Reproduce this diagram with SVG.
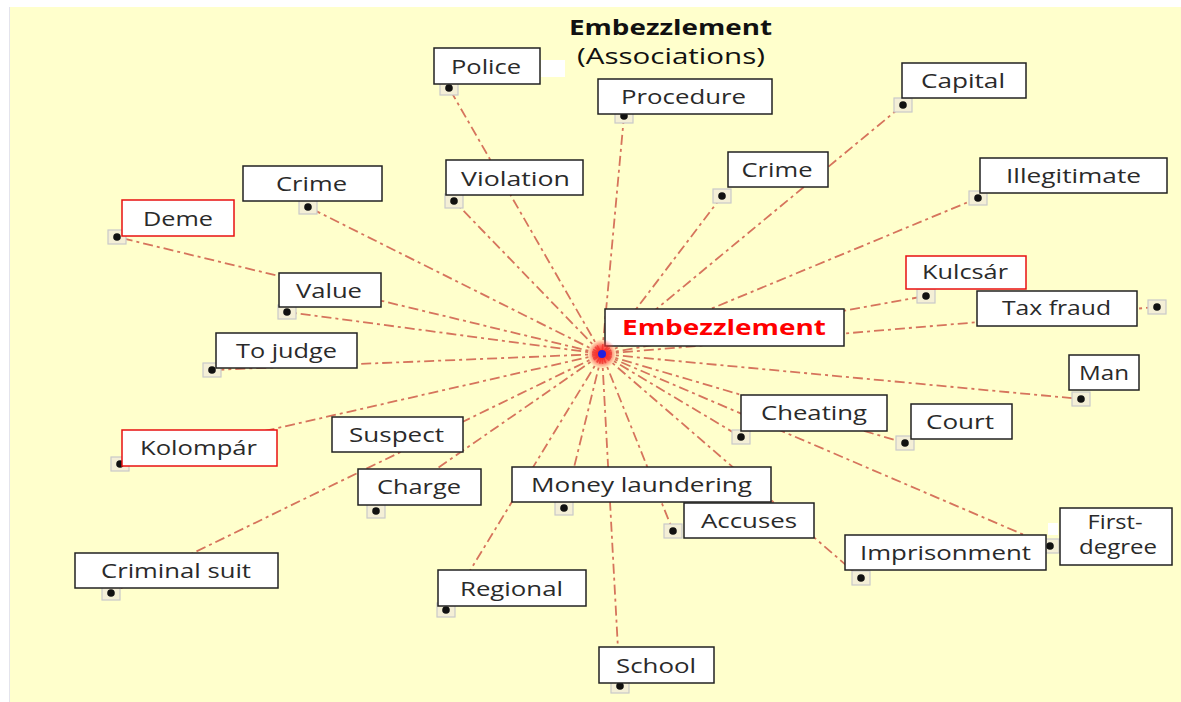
<svg xmlns="http://www.w3.org/2000/svg" width="1181" height="702" viewBox="0 0 1181 702">
  <defs>
    <style>
      .bg { fill: #FFFFCC; }
      .link { stroke: #D6745C; stroke-width: 1.8; fill: none; stroke-dasharray: 10 4 3 4; }
      .anchor { fill: #F4EFD6; stroke: #C9C9C9; stroke-width: 1.2; }
      .pin { fill: #111; }
      .box { fill: #FFFFFF; stroke: #222222; stroke-width: 1.5; }
      .box.hl { stroke: #E81010; }
      .lbl { font-family: "Open Sans", "Noto Sans", "Liberation Sans", sans-serif; font-size: 20px; fill: #2A2A2A; text-anchor: middle; }
      .title { font-family: "Open Sans", "Noto Sans", "Liberation Sans", sans-serif; font-size: 21px; fill: #111111; text-anchor: middle; }
      .main { font-family: "Open Sans", "Noto Sans", "Liberation Sans", sans-serif; font-size: 21px; font-weight: bold; fill: #FF0000; text-anchor: middle; }
      .patch { fill: #FFFFFF; }
    </style>
    <radialGradient id="hub" cx="0.5" cy="0.5" r="0.5">
      <stop offset="0" stop-color="#FF1A1A" stop-opacity="1"/>
      <stop offset="0.55" stop-color="#FF2A2A" stop-opacity="0.7"/>
      <stop offset="1" stop-color="#FF4040" stop-opacity="0"/>
    </radialGradient>
  </defs>

  <!-- canvas -->
  <rect x="0" y="0" width="1181" height="702" fill="#FFFFFF"/>
  <rect class="bg" x="10" y="7" width="1171" height="695"/>
  <line x1="9.5" y1="7" x2="9.5" y2="702" stroke="#E4E4EC" stroke-width="1"/>

  <!-- title -->
  <g id="title">
    <text class="title" x="670.5" y="35" font-weight="bold" textLength="203" lengthAdjust="spacingAndGlyphs">Embezzlement</text>
    <text class="title" x="671" y="64" textLength="188" lengthAdjust="spacingAndGlyphs">(Associations)</text>
  </g>

  <!-- connectors from the hub -->
  <g id="connectors">
    <line class="link" x1="602" y1="354" x2="449" y2="88"/>
    <line class="link" x1="602" y1="354" x2="624" y2="116"/>
    <line class="link" x1="602" y1="354" x2="903" y2="105"/>
    <line class="link" x1="602" y1="354" x2="722" y2="196"/>
    <line class="link" x1="602" y1="354" x2="978" y2="198"/>
    <line class="link" x1="602" y1="354" x2="308" y2="207"/>
    <line class="link" x1="602" y1="354" x2="454" y2="201"/>
    <line class="link" x1="602" y1="354" x2="117" y2="237"/>
    <line class="link" x1="602" y1="354" x2="926" y2="296"/>
    <line class="link" x1="602" y1="354" x2="1157" y2="307"/>
    <line class="link" x1="602" y1="354" x2="287" y2="312"/>
    <line class="link" x1="602" y1="354" x2="212" y2="370"/>
    <line class="link" x1="602" y1="354" x2="1081" y2="399"/>
    <line class="link" x1="602" y1="354" x2="741" y2="437"/>
    <line class="link" x1="602" y1="354" x2="905" y2="443"/>
    <line class="link" x1="602" y1="354" x2="120" y2="464"/>
    <line class="link" x1="602" y1="354" x2="376" y2="511"/>
    <line class="link" x1="602" y1="354" x2="111" y2="593"/>
    <line class="link" x1="602" y1="354" x2="564" y2="508"/>
    <line class="link" x1="602" y1="354" x2="673" y2="531"/>
    <line class="link" x1="602" y1="354" x2="861" y2="578"/>
    <line class="link" x1="602" y1="354" x2="1050" y2="546"/>
    <line class="link" x1="602" y1="354" x2="446" y2="610"/>
    <line class="link" x1="602" y1="354" x2="620" y2="686"/>
  </g>

  <!-- anchor pins at the end of each connector -->
  <g id="anchors">
    <g transform="translate(449 88)"><rect class="anchor" x="-9" y="-7" width="18" height="14"/><circle class="pin" r="3.8"/></g>
    <g transform="translate(624 116)"><rect class="anchor" x="-9" y="-7" width="18" height="14"/><circle class="pin" r="3.8"/></g>
    <g transform="translate(903 105)"><rect class="anchor" x="-9" y="-7" width="18" height="14"/><circle class="pin" r="3.8"/></g>
    <g transform="translate(722 196)"><rect class="anchor" x="-9" y="-7" width="18" height="14"/><circle class="pin" r="3.8"/></g>
    <g transform="translate(978 198)"><rect class="anchor" x="-9" y="-7" width="18" height="14"/><circle class="pin" r="3.8"/></g>
    <g transform="translate(308 207)"><rect class="anchor" x="-9" y="-7" width="18" height="14"/><circle class="pin" r="3.8"/></g>
    <g transform="translate(454 201)"><rect class="anchor" x="-9" y="-7" width="18" height="14"/><circle class="pin" r="3.8"/></g>
    <g transform="translate(117 237)"><rect class="anchor" x="-9" y="-7" width="18" height="14"/><circle class="pin" r="3.8"/></g>
    <g transform="translate(926 296)"><rect class="anchor" x="-9" y="-7" width="18" height="14"/><circle class="pin" r="3.8"/></g>
    <g transform="translate(1157 307)"><rect class="anchor" x="-9" y="-7" width="18" height="14"/><circle class="pin" r="3.8"/></g>
    <g transform="translate(287 312)"><rect class="anchor" x="-9" y="-7" width="18" height="14"/><circle class="pin" r="3.8"/></g>
    <g transform="translate(212 370)"><rect class="anchor" x="-9" y="-7" width="18" height="14"/><circle class="pin" r="3.8"/></g>
    <g transform="translate(1081 399)"><rect class="anchor" x="-9" y="-7" width="18" height="14"/><circle class="pin" r="3.8"/></g>
    <g transform="translate(741 437)"><rect class="anchor" x="-9" y="-7" width="18" height="14"/><circle class="pin" r="3.8"/></g>
    <g transform="translate(905 443)"><rect class="anchor" x="-9" y="-7" width="18" height="14"/><circle class="pin" r="3.8"/></g>
    <g transform="translate(120 464)"><rect class="anchor" x="-9" y="-7" width="18" height="14"/><circle class="pin" r="3.8"/></g>
    <g transform="translate(376 511)"><rect class="anchor" x="-9" y="-7" width="18" height="14"/><circle class="pin" r="3.8"/></g>
    <g transform="translate(111 593)"><rect class="anchor" x="-9" y="-7" width="18" height="14"/><circle class="pin" r="3.8"/></g>
    <g transform="translate(564 508)"><rect class="anchor" x="-9" y="-7" width="18" height="14"/><circle class="pin" r="3.8"/></g>
    <g transform="translate(673 531)"><rect class="anchor" x="-9" y="-7" width="18" height="14"/><circle class="pin" r="3.8"/></g>
    <g transform="translate(861 578)"><rect class="anchor" x="-9" y="-7" width="18" height="14"/><circle class="pin" r="3.8"/></g>
    <g transform="translate(1050 546)"><rect class="anchor" x="-9" y="-7" width="18" height="14"/><circle class="pin" r="3.8"/></g>
    <g transform="translate(446 610)"><rect class="anchor" x="-9" y="-7" width="18" height="14"/><circle class="pin" r="3.8"/></g>
    <g transform="translate(620 686)"><rect class="anchor" x="-9" y="-7" width="18" height="14"/><circle class="pin" r="3.8"/></g>
  </g>

  <!-- small white fragments -->
  <rect class="patch" x="541" y="60" width="24" height="17"/>
  <rect class="patch" x="1048" y="523" width="10" height="12"/>

  <!-- word nodes -->
  <g id="node-police"><rect class="box" x="434" y="48" width="106" height="36"/><text class="lbl" x="486" y="74" textLength="70" lengthAdjust="spacingAndGlyphs">Police</text></g>
  <g id="node-procedure"><rect class="box" x="598" y="79" width="174" height="35"/><text class="lbl" x="683.5" y="104" textLength="125" lengthAdjust="spacingAndGlyphs">Procedure</text></g>
  <g id="node-capital"><rect class="box" x="902" y="63" width="124" height="35"/><text class="lbl" x="963" y="88" textLength="84" lengthAdjust="spacingAndGlyphs">Capital</text></g>
  <g id="node-crime-right"><rect class="box" x="728" y="152" width="100" height="35"/><text class="lbl" x="777" y="177" textLength="71" lengthAdjust="spacingAndGlyphs">Crime</text></g>
  <g id="node-illegitimate"><rect class="box" x="980" y="158" width="187" height="35"/><text class="lbl" x="1073.5" y="183" textLength="135" lengthAdjust="spacingAndGlyphs">Illegitimate</text></g>
  <g id="node-crime-left"><rect class="box" x="243" y="166" width="139" height="35"/><text class="lbl" x="311.5" y="191" textLength="71" lengthAdjust="spacingAndGlyphs">Crime</text></g>
  <g id="node-violation"><rect class="box" x="446" y="160" width="137" height="35"/><text class="lbl" x="515.5" y="186" textLength="109" lengthAdjust="spacingAndGlyphs">Violation</text></g>
  <g id="node-deme"><rect class="box hl" x="122" y="200" width="112" height="36"/><text class="lbl" x="178" y="226" textLength="70" lengthAdjust="spacingAndGlyphs">Deme</text></g>
  <g id="node-kulcsar"><rect class="box hl" x="906" y="256" width="120" height="33"/><text class="lbl" x="965" y="279" textLength="86" lengthAdjust="spacingAndGlyphs">Kulcsár</text></g>
  <g id="node-tax-fraud"><rect class="box" x="977" y="291" width="160" height="35"/><text class="lbl" x="1056.5" y="315" textLength="109" lengthAdjust="spacingAndGlyphs">Tax fraud</text></g>
  <g id="node-value"><rect class="box" x="279" y="273" width="102" height="34"/><text class="lbl" x="329" y="298" textLength="66" lengthAdjust="spacingAndGlyphs">Value</text></g>
  <g id="node-to-judge"><rect class="box" x="216" y="333" width="141" height="35"/><text class="lbl" x="286.5" y="358" textLength="101" lengthAdjust="spacingAndGlyphs">To judge</text></g>
  <g id="node-man"><rect class="box" x="1069" y="355" width="70" height="35"/><text class="lbl" x="1104" y="380" textLength="50" lengthAdjust="spacingAndGlyphs">Man</text></g>
  <g id="node-cheating"><rect class="box" x="741" y="395" width="146" height="36"/><text class="lbl" x="814" y="420" textLength="106" lengthAdjust="spacingAndGlyphs">Cheating</text></g>
  <g id="node-court"><rect class="box" x="911" y="404" width="101" height="35"/><text class="lbl" x="960" y="429" textLength="68" lengthAdjust="spacingAndGlyphs">Court</text></g>
  <g id="node-kolompar"><rect class="box hl" x="122" y="430" width="155" height="36"/><text class="lbl" x="198.5" y="455" textLength="117" lengthAdjust="spacingAndGlyphs">Kolompár</text></g>
  <g id="node-suspect"><rect class="box" x="332" y="417" width="131" height="35"/><text class="lbl" x="396.5" y="442" textLength="95" lengthAdjust="spacingAndGlyphs">Suspect</text></g>
  <g id="node-charge"><rect class="box" x="358" y="469" width="123" height="36"/><text class="lbl" x="419" y="494" textLength="84" lengthAdjust="spacingAndGlyphs">Charge</text></g>
  <g id="node-money-laundering"><rect class="box" x="512" y="467" width="259" height="35"/><text class="lbl" x="641.5" y="492" textLength="221" lengthAdjust="spacingAndGlyphs">Money laundering</text></g>
  <g id="node-accuses"><rect class="box" x="684" y="503" width="130" height="35"/><text class="lbl" x="749" y="528" textLength="96" lengthAdjust="spacingAndGlyphs">Accuses</text></g>
  <g id="node-imprisonment"><rect class="box" x="845" y="535" width="201" height="35"/><text class="lbl" x="945.5" y="560" textLength="171" lengthAdjust="spacingAndGlyphs">Imprisonment</text></g>
  <g id="node-first-degree"><rect class="box" x="1060" y="508" width="112" height="57"/><text class="lbl" x="1115" y="529" textLength="55" lengthAdjust="spacingAndGlyphs">First-</text><text class="lbl" x="1118" y="554" textLength="78" lengthAdjust="spacingAndGlyphs">degree</text></g>
  <g id="node-criminal-suit"><rect class="box" x="75" y="553" width="203" height="35"/><text class="lbl" x="176" y="578" textLength="150" lengthAdjust="spacingAndGlyphs">Criminal suit</text></g>
  <g id="node-regional"><rect class="box" x="438" y="570" width="148" height="36"/><text class="lbl" x="511.5" y="596" textLength="103" lengthAdjust="spacingAndGlyphs">Regional</text></g>
  <g id="node-school"><rect class="box" x="599" y="647" width="115" height="36"/><text class="lbl" x="656" y="673" textLength="80" lengthAdjust="spacingAndGlyphs">School</text></g>

  <!-- central concept -->
  <g id="node-embezzlement">
    <rect class="box" x="605" y="309" width="239" height="37"/>
    <text class="main" x="724" y="335" textLength="204" lengthAdjust="spacingAndGlyphs">Embezzlement</text>
  </g>
  <g id="hub">
    <circle cx="602" cy="354" r="15" fill="url(#hub)"/>
    <circle cx="602" cy="354" r="4" fill="#2020E0"/>
  </g>
</svg>
